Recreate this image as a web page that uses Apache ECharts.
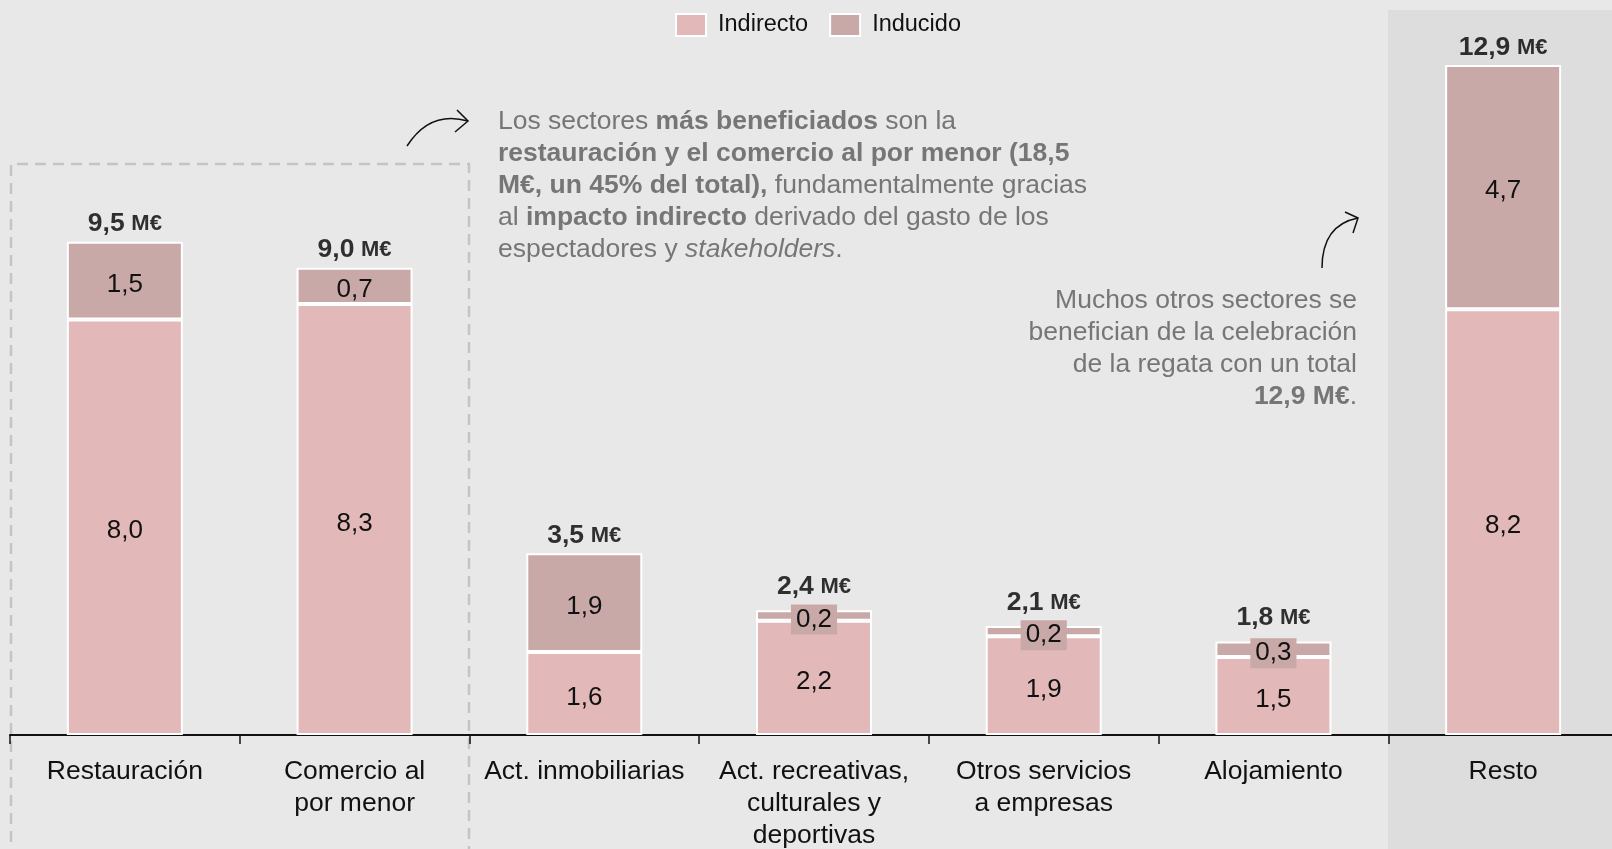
<!DOCTYPE html>
<html>
<head>
<meta charset="utf-8">
<script src="https://cdn.jsdelivr.net/npm/echarts@6/dist/echarts.min.js"></script>
<style>
  html, body { margin: 0; padding: 0; background: #e8e8e8; }
  #chart { width: 1612px; height: 849px; }
</style>
</head>
<body>
<div id="chart"></div>
<script>
// datos
var categories = ['Restauración', 'Comercio al\npor menor', 'Act. inmobiliarias',
  'Act. recreativas,\nculturales y\ndeportivas', 'Otros servicios\na empresas', 'Alojamiento', 'Resto'];
var indirecto = [8.0, 8.3, 1.6, 2.2, 1.9, 1.5, 8.2];
var inducido = [1.5, 0.7, 1.9, 0.2, 0.2, 0.3, 4.7];
var totales = [9.5, 9.0, 3.5, 2.4, 2.1, 1.8, 12.9];

var FONT = '"Liberation Sans", Arial, sans-serif';
var C_IND = '#e2b8b8';
var C_INDU = '#c9a9a8';
var GRIS = '#767676';
var TXT = 26.5;

function fmt(v) { return v.toFixed(1).replace('.', ','); }

var chart = echarts.init(document.getElementById('chart'));

// segmentos pequeños: etiqueta con fondo
var inducidoData = inducido.map(function (v) {
  if (v < 0.5) {
    return { value: v, label: { backgroundColor: C_INDU, padding: [3, 5, 1, 5] } };
  }
  return v;
});
var totalData = totales.map(function (v, i) {
  if (inducido[i] < 0.5) return { value: v, label: { distance: 10 } };
  return v;
});

// lineas de los textos de anotacion
var nota1 = [
  'Los sectores {b|más beneficiados} son la',
  '{b|restauración y el comercio al por menor (18,5}',
  '{b|M€, un 45% del total),} fundamentalmente gracias',
  'al {b|impacto indirecto} derivado del gasto de los',
  'espectadores y {i|stakeholders}.'
];
var nota2 = [
  'Muchos otros sectores se',
  'benefician de la celebración',
  'de la regata con un total',
  '{b|12,9 M€}.'
];

var richNota = {
  b: { fontWeight: 'bold', fill: GRIS, fontSize: TXT, fontFamily: FONT },
  i: { fontStyle: 'italic', fill: GRIS, fontSize: TXT, fontFamily: FONT }
};

function lineas(arr, x, y0, align) {
  return arr.map(function (t, i) {
    return {
      type: 'text', silent: true, x: x, y: y0 + i * 32,
      style: {
        text: t, fill: GRIS, font: TXT + 'px ' + FONT,
        align: align, verticalAlign: 'middle', rich: richNota
      }
    };
  });
}

var graphics = [
  // fondo de "Resto"
  { type: 'rect', z: -10, silent: true,
    shape: { x: 1388, y: 10, width: 230, height: 850 },
    style: { fill: '#dddddd' } },
  // recuadro discontinuo
  { type: 'polyline', z: -5, silent: true,
    shape: { points: [[11, 860], [11, 164], [469, 164], [469, 860]] },
    style: { stroke: '#c4c4c4', lineWidth: 2.5, lineDash: [11, 7], fill: null } },
  // flecha 1
  { type: 'bezierCurve', silent: true,
    shape: { x1: 407, y1: 146, cpx1: 430, cpy1: 110, x2: 468, y2: 121 },
    style: { stroke: '#111', lineWidth: 1.5, fill: null } },
  { type: 'polyline', silent: true,
    shape: { points: [[457, 110], [468, 121], [455, 132]] },
    style: { stroke: '#111', lineWidth: 1.5, fill: null } },
  // flecha 2
  { type: 'bezierCurve', silent: true,
    shape: { x1: 1322, y1: 268, cpx1: 1322, cpy1: 225, x2: 1358, y2: 218 },
    style: { stroke: '#111', lineWidth: 1.5, fill: null } },
  { type: 'polyline', silent: true,
    shape: { points: [[1345, 212], [1358, 218], [1353, 233]] },
    style: { stroke: '#111', lineWidth: 1.5, fill: null } }
].concat(lineas(nota1, 498, 122, 'left'), lineas(nota2, 1357, 301, 'right'));

var option = {
  backgroundColor: '#e8e8e8',
  textStyle: { fontFamily: FONT },
  animation: false,
  legend: {
    left: 670, top: 8,
    itemWidth: 30, itemHeight: 22, itemGap: 21,
    icon: 'rect',
    textStyle: { fontSize: 23.5, color: '#111', fontFamily: FONT, padding: [0, 0, 0, 7] },
    data: ['Indirecto', 'Inducido']
  },
  grid: { left: 10, width: 1608, top: 8, bottom: 114, outerBoundsMode: 'none', containLabel: false },
  xAxis: {
    type: 'category',
    data: categories,
    axisLine: { lineStyle: { color: '#111', width: 2 } },
    axisTick: { show: true, length: 9, lineStyle: { color: '#111', width: 1.5 } },
    axisLabel: { fontSize: 26.5, color: '#111', lineHeight: 32, margin: 21, fontFamily: FONT, interval: 0 }
  },
  yAxis: { type: 'value', min: 0, max: 14, show: false, splitLine: { show: false } },
  series: [
    {
      name: 'Indirecto', type: 'bar', stack: 'a', barWidth: 116,
      data: indirecto,
      itemStyle: { color: C_IND, borderColor: '#fff', borderWidth: 2 },
      label: { show: true, position: 'inside', offset: [0, 4], fontSize: 26, color: '#111', fontFamily: FONT,
        formatter: function (p) { return fmt(p.value); } }
    },
    {
      name: 'Inducido', type: 'bar', stack: 'a', barWidth: 116,
      data: inducidoData,
      itemStyle: { color: C_INDU, borderColor: '#fff', borderWidth: 2 },
      label: { show: true, position: 'inside', offset: [0, 4], fontSize: 26, color: '#111', fontFamily: FONT,
        formatter: function (p) { return fmt(p.value); } }
    },
    {
      name: 'Total', type: 'scatter', data: totalData, symbolSize: 0,
      silent: true,
      label: {
        show: true, position: 'top', distance: 4,
        formatter: function (p) { return '{v|' + fmt(p.value) + '}  {u|M€}'; },
        rich: {
          v: { fontSize: 26.5, fontWeight: 'bold', color: '#000', fontFamily: FONT },
          u: { fontSize: 22, fontWeight: 'bold', color: '#000', fontFamily: FONT }
        }
      }
    }
  ],
  graphic: graphics
};

chart.setOption(option);
</script>
</body>
</html>
